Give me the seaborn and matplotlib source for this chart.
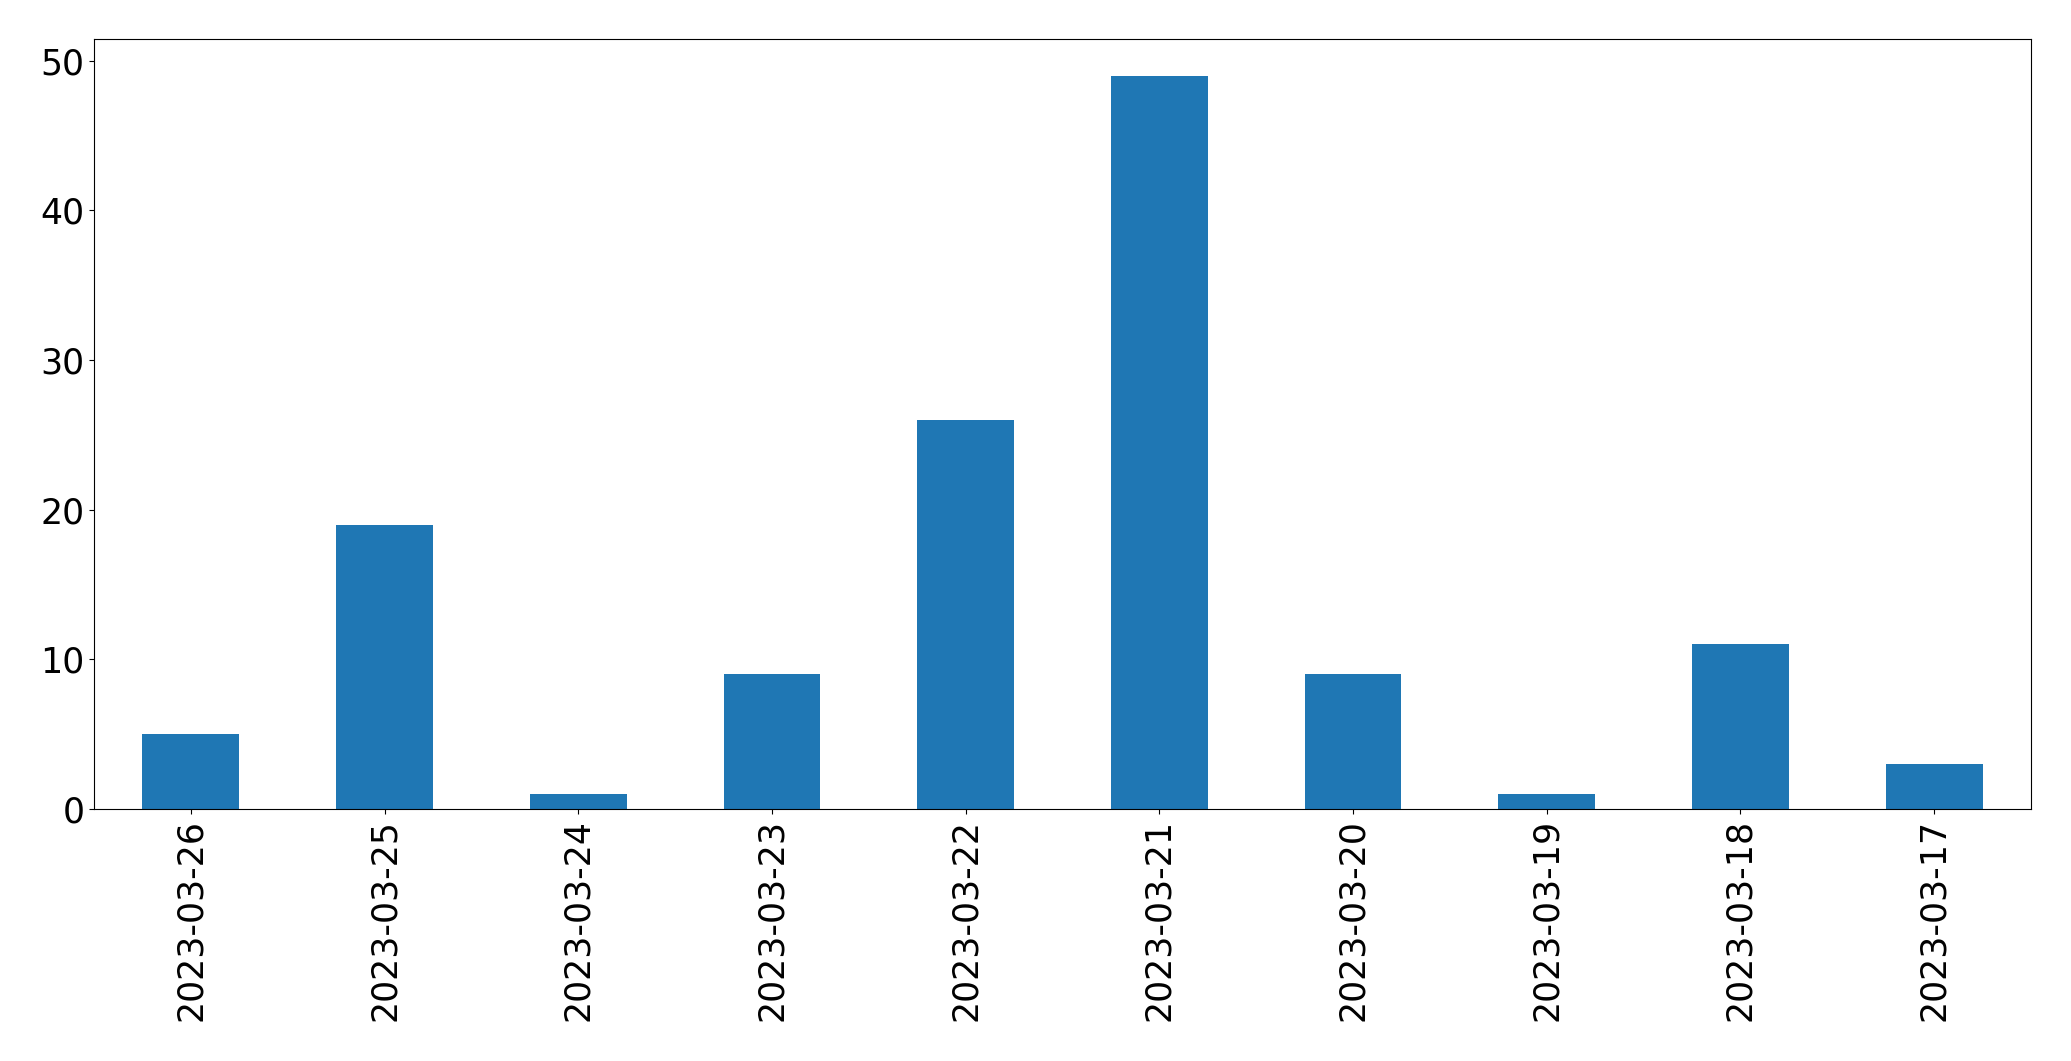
import matplotlib
matplotlib.use("Agg")
import matplotlib.pyplot as plt
import seaborn as sns
import pandas as pd

dates = ["2023-03-26", "2023-03-25", "2023-03-24", "2023-03-23", "2023-03-22",
         "2023-03-21", "2023-03-20", "2023-03-19", "2023-03-18", "2023-03-17"]
counts = [5, 19, 1, 9, 26, 49, 9, 1, 11, 3]

sns.set_style("ticks")
plt.rcParams['font.family'] = ['DejaVu Sans']
plt.rcParams['text.color'] = 'black'
plt.rcParams['xtick.color'] = 'black'
plt.rcParams['ytick.color'] = 'black'
plt.rcParams['axes.edgecolor'] = 'black'

df = pd.DataFrame({"date": dates, "count": counts})

fig = plt.figure(figsize=(20.71, 10.61), dpi=100)
ax = fig.add_axes([94/2071, 1 - 809/1061, (2031-94)/2071, (809-39)/1061])
sns.barplot(data=df, x="date", y="count", color="#1f77b4", saturation=1,
            width=0.5, edgecolor="none", linewidth=0, ax=ax)
ax.set_xlim(-0.5, len(dates) - 0.5)
ax.set_xlabel("")
ax.set_ylabel("")
ax.tick_params(axis="both", labelsize=25, length=3.5, width=0.8,
               color="black", labelcolor="black")
ax.tick_params(axis="x", labelrotation=90)
for s in ax.spines.values():
    s.set_visible(True)
    s.set_color("black")
    s.set_linewidth(0.8)
fig.savefig("out.png", dpi=100)
